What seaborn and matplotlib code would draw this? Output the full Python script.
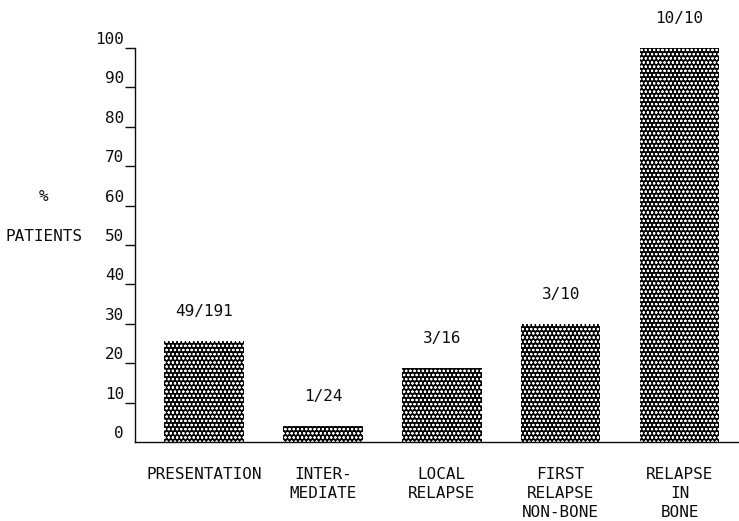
import matplotlib
matplotlib.use("Agg")
import matplotlib.pyplot as plt
import matplotlib.transforms as mtransforms
import numpy as np
import pandas as pd
import seaborn as sns

# Patient groups and counts (affected / total)
categories = ["PRESENTATION", "INTER-\nMEDIATE", "LOCAL\nRELAPSE",
              "FIRST\nRELAPSE\nNON-BONE", "RELAPSE\nIN\nBONE"]
affected = [49, 1, 3, 3, 10]
totals = [191, 24, 16, 10, 10]
y_ticks = [0, 10, 20, 30, 40, 50, 60, 70, 80, 90, 100]

percent = [100.0 * a / t for a, t in zip(affected, totals)]
df = pd.DataFrame({"group": categories, "pct": percent})

sns.set_theme(style="white")
plt.rcParams["font.family"] = ["DejaVu Sans Mono"]
plt.rcParams["hatch.linewidth"] = 0.5

ink = "#0d0d0d"

fig = plt.figure(figsize=(7.39, 5.21), dpi=100)
ax = fig.add_axes([0.1827, 0.1516, 0.8173, 0.7562])

sns.barplot(data=df, x="group", y="pct", color="#050505", saturation=1,
            edgecolor="white", linewidth=0, hatch="oooo", width=0.67, ax=ax)

ax.set_xlim(-0.58, 4.5)
ax.set_ylim(0, 100)

# Fraction labels above each bar
for i, (a, t, p) in enumerate(zip(affected, totals, percent)):
    ax.annotate(f"{a}/{t}", xy=(i, p), xytext=(0, 21), textcoords="offset points",
                ha="center", va="center", fontsize=11.5, color=ink)

# Axes styling
for side in ("top", "right"):
    ax.spines[side].set_visible(False)
for side in ("left", "bottom"):
    ax.spines[side].set_color(ink)
    ax.spines[side].set_linewidth(1.0)

ax.set_yticks(y_ticks)
ax.set_yticklabels([str(v) for v in y_ticks])
ax.tick_params(axis="y", direction="out", length=7.2, width=1.0, pad=0.7,
               labelsize=11.5, colors=ink, left=True)
ax.tick_params(axis="x", length=0, pad=18, labelsize=11.5, colors=ink)
for lbl in ax.get_xticklabels():
    lbl.set_verticalalignment("top")
    lbl.set_horizontalalignment("center")
    lbl.set_linespacing(1.35)

# No tick mark at zero; the baseline starts at the axis
ax.yaxis.get_major_ticks()[0].tick1line.set_visible(False)

# Raise tick labels so they sit above-left of their tick marks
shift = mtransforms.ScaledTranslation(0, 0.10, fig.dpi_scale_trans)
for lbl in ax.get_yticklabels():
    lbl.set_transform(lbl.get_transform() + shift)

ax.set_xlabel("")
ax.set_ylabel("%\n\nPATIENTS", rotation=0, fontsize=11.5, color=ink,
              ha="center", va="center", linespacing=1.42)
ax.yaxis.set_label_coords(-0.151, 0.572)

fig.savefig("out.png", dpi=100, facecolor="white")
